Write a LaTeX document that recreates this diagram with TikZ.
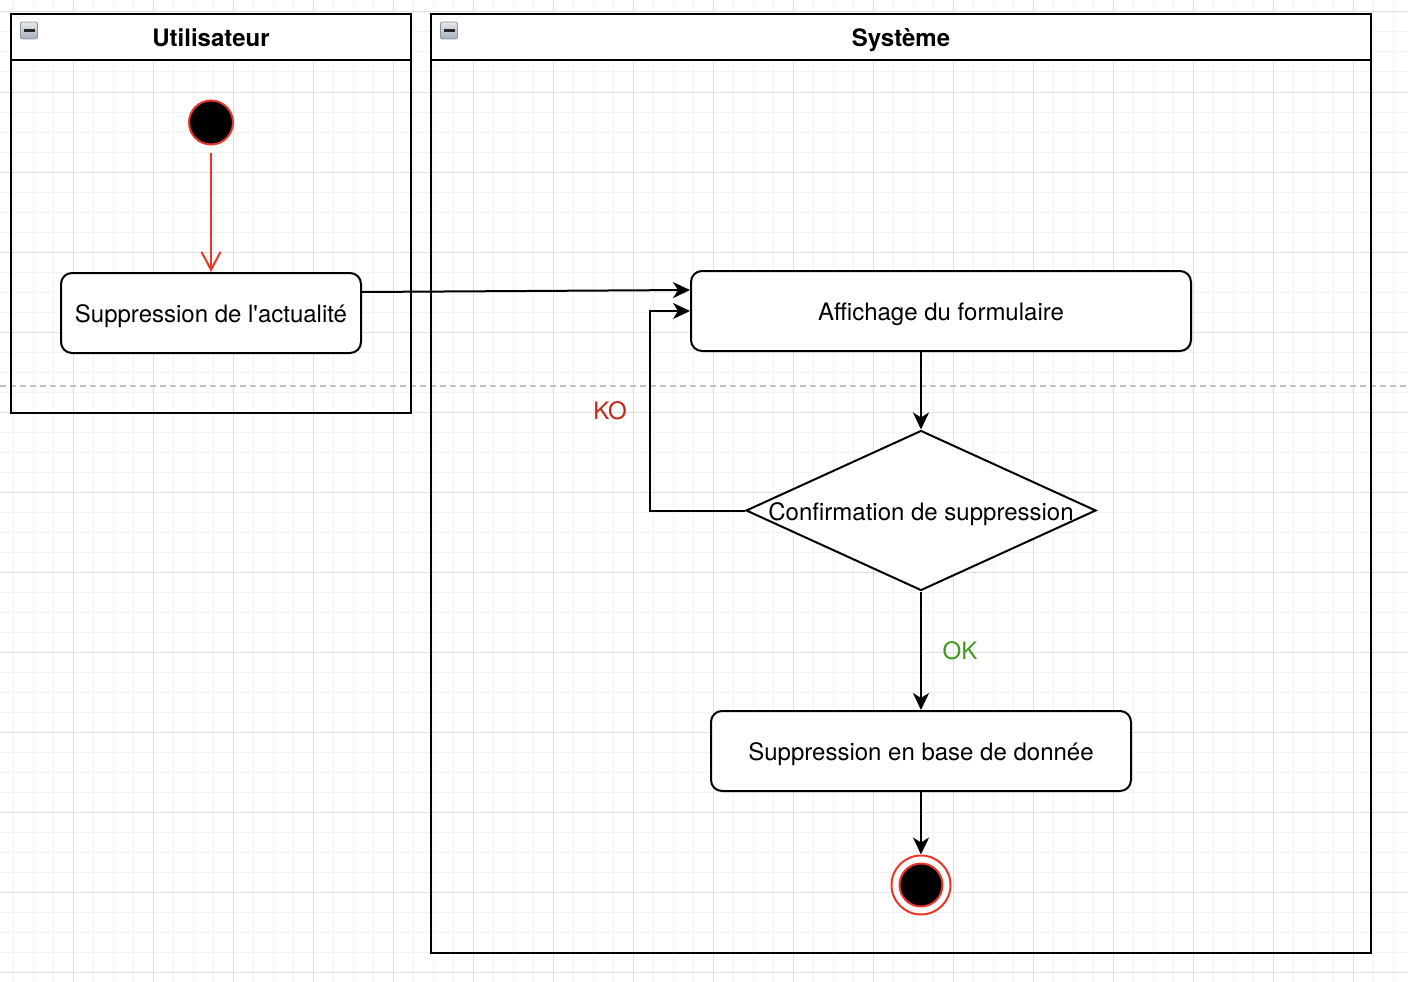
\documentclass[tikz,border=0pt]{standalone}
\usepackage{fontspec}
\setmainfont{TeX Gyre Heros}[Ligatures=TeXOff]
\usetikzlibrary{arrows.meta,shapes.geometric,calc}
\definecolor{gridminor}{HTML}{F3F3F3}
\definecolor{gridmajor}{HTML}{DFDFDF}
\definecolor{pagegray}{HTML}{C2C2C2}
\definecolor{startred}{HTML}{E8372A}
\definecolor{kored}{HTML}{C4261D}
\definecolor{okgreen}{HTML}{3F9B1F}
\definecolor{icontop}{HTML}{E4E8EE}
\definecolor{iconbot}{HTML}{A7AEB9}
\definecolor{iconedge}{HTML}{8C94A1}
\begin{document}
\begin{tikzpicture}[x=1pt,y=-1pt,
  txt/.style={font=\fontsize{24}{28}\selectfont,text height=24pt,text depth=5pt},
  lanebody/.style={draw=black,line width=2pt,inner sep=0pt,anchor=north},
  laneheader/.style={draw=black,line width=2pt,fill=white,inner sep=0pt,anchor=north,
     font=\bfseries\fontsize{24}{28}\selectfont,text height=24pt,text depth=5pt},
  actbox/.style={draw=black,line width=2pt,fill=white,rounded corners=11pt,
     minimum height=80pt,inner sep=0pt,txt},
  decbox/.style={diamond,draw=black,line width=2pt,fill=white,minimum width=350pt,
     minimum height=160pt,inner sep=0pt,txt},
  startdot/.style={circle,fill=black,draw=startred,line width=2pt,minimum size=44pt,inner sep=0pt},
  endring/.style={circle,fill=white,draw=startred,line width=2pt,minimum size=59pt,inner sep=0pt},
  enddot/.style={circle,fill=black,draw=startred,line width=2pt,minimum size=43pt,inner sep=0pt},
  arr/.style={draw=black,line width=2pt,-{Stealth[length=17pt,width=16pt,inset=5pt]}},
  redarr/.style={draw=startred,line width=2pt,-{Straight Barb[length=18pt,width=19pt]}},
  icon/.style={draw=iconedge,line width=0.8pt,top color=icontop,bottom color=iconbot,
     rounded corners=2pt,minimum size=17pt,inner sep=0pt},
  iconbar/.style={fill=black!85,minimum width=11pt,minimum height=3pt,inner sep=0pt},
  lbl/.style={txt,inner sep=0pt}
]
% background and grid
\fill[white] (0,0) rectangle (1408,982);
\useasboundingbox (0,0) rectangle (1408,982);
\foreach \x in {13,33,...,1408} \draw[gridminor,line width=1pt] (\x,0) -- (\x,982);
\foreach \y in {12,32,...,982} \draw[gridminor,line width=1pt] (0,\y) -- (1408,\y);
\foreach \x in {73,153,...,1408} \draw[gridmajor,line width=1pt] (\x,0) -- (\x,982);
\foreach \y in {12,92,...,982} \draw[gridmajor,line width=1pt] (0,\y) -- (1408,\y);
% page break line
\draw[pagegray,line width=1.5pt,dash pattern=on 6pt off 4pt] (0,386) -- (1408,386);

% swimlanes
\node[lanebody,minimum width=400pt,minimum height=399pt] (laneU) at (211,13) {};
\node[laneheader,minimum width=400pt,minimum height=46pt] (headU) at (211,13) {Utilisateur};
\node[lanebody,minimum width=940pt,minimum height=939pt] (laneS) at (901,13) {};
\node[laneheader,minimum width=940pt,minimum height=46pt] (headS) at (901,13) {Système};
\node[icon] (iconU) at (29,30.5) {};
\node[iconbar] (barU) at (iconU.center) {};
\node[icon] (iconS) at (449,30.5) {};
\node[iconbar] (barS) at (iconS.center) {};

% nodes
\node[startdot] (start) at (211,122.5) {};
\node[actbox,minimum width=300pt] (supp) at (211,313) {Suppression de l'actualité};
\node[actbox,minimum width=500pt] (aff) at (941,311) {Affichage du formulaire};
\node[decbox] (dec) at (921,510.5) {\makebox[0pt]{Confirmation de suppression}};
\node[actbox,minimum width=420pt] (db) at (921,751) {Suppression en base de donnée};
\node[endring] (final) at (921,885) {};
\node[enddot] (finaldot) at (final.center) {};

% labels
\node[lbl,text=kored] (ko) at (610,410) {KO};
\node[lbl,text=okgreen] (ok) at (960,650) {OK};

% connectors
\draw[redarr,shorten <=7pt] (start) -- (supp);
\draw[arr] ($(supp.north east)+(0,20)$) -- ($(aff.north west)+(0,20)$);
\draw[arr] (dec.north |- aff.south) -- (dec.north);
\draw[arr] (dec.west) -| ($(aff.west)+(-40,0)$) -- (aff.west);
\draw[arr] (dec.south) -- (db.north);
\draw[arr] (db.south) -- (final.north);
\end{tikzpicture}
\end{document}
